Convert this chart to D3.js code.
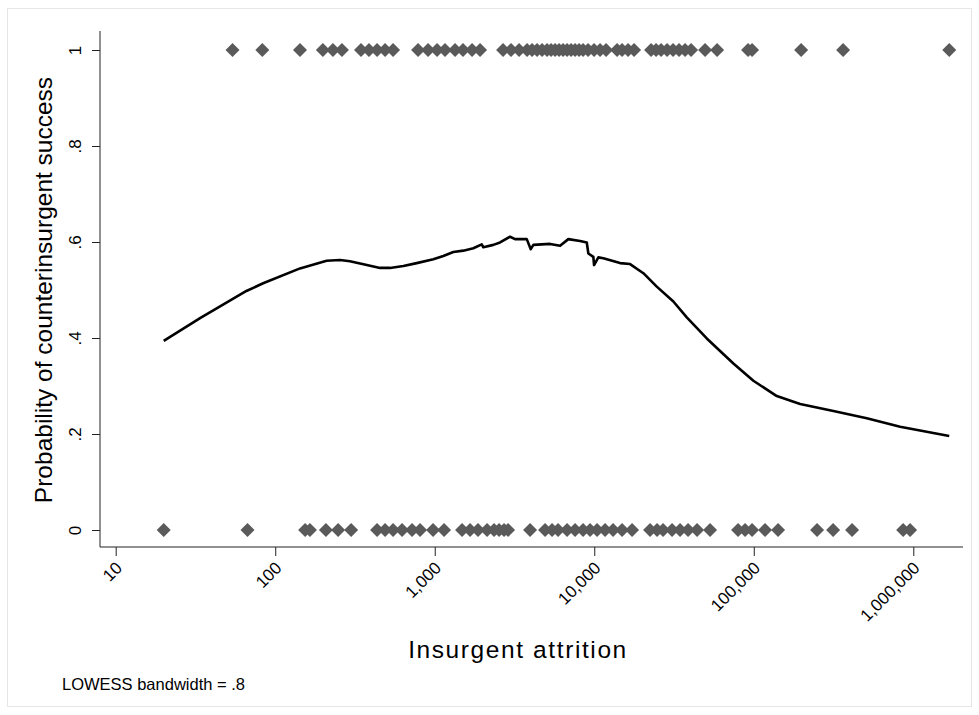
<!DOCTYPE html>
<html>
<head>
<meta charset="utf-8">
<script src="https://cdn.jsdelivr.net/npm/d3@7"></script>
<style>
  body { margin: 0; background: #fff; }
  text { font-family: "Liberation Sans", Arial, sans-serif; fill: #000; }
</style>
</head>
<body>
<div id="chart"></div>
<script>
// attrition of each case, split by outcome (1 = counterinsurgent success)
const successAttrition = [54, 83, 143, 199, 230, 262, 345, 387, 435, 488, 548, 786, 908, 1034, 1160,
  1341, 1504, 1714, 1923, 2681, 3009, 3377, 3790, 4074, 4379, 4707, 5059, 5360, 5679, 6016, 6375,
  6753, 7155, 7579, 8029, 8507, 9144, 9970, 10870, 11860, 13900, 14940, 16290, 17760, 22710, 24410,
  26230, 28610, 31190, 34020, 37090, 40450, 49510, 58890, 92100, 97560, 198000, 363000, 1680000]

const failureAttrition = [20, 67, 154, 165, 208, 248, 299, 435, 488, 548, 624, 721, 809, 976, 1144,
  1483, 1665, 1868, 2128, 2354, 2530, 2720, 2881, 3958, 4915, 5439, 5929, 6753, 7579, 8507, 9413,
  10410, 11690, 13120, 14940, 17260, 22380, 24760, 27000, 30740, 34510, 38730, 44110, 53210, 79730,
  88210, 97560, 117700, 142000, 249400, 314200, 413300, 863300, 954800]

// lowess smooth
const lowessX = [20, 34, 66, 84, 143, 210, 255, 294, 375, 454, 524, 636, 771, 980, 1132, 1308, 1511,
  1746, 1971, 2017, 2330, 2567, 2966, 3187, 3774, 3999, 4152, 5284, 6105, 6880, 8147, 8975, 9184,
  9871, 9970, 10610, 11400, 14510, 16770, 20320, 24650, 31330, 38010, 50740, 74490, 99430, 139400,
  195200, 315600, 511000, 826500, 1680000]
const lowessY = [0.394, 0.442, 0.498, 0.514, 0.545, 0.561, 0.5625, 0.560, 0.552, 0.546, 0.546, 0.550,
  0.556, 0.564, 0.571, 0.579, 0.582, 0.587, 0.595, 0.589, 0.594, 0.599, 0.611, 0.606, 0.606, 0.585,
  0.594, 0.596, 0.592, 0.606, 0.602, 0.599, 0.576, 0.569, 0.552, 0.568, 0.566, 0.556, 0.554, 0.535,
  0.507, 0.476, 0.443, 0.399, 0.347, 0.311, 0.279, 0.2625, 0.248, 0.233, 0.215, 0.196]

const xTicks = [10, 100, 1000, 10000, 100000, 1000000]
const yTicks = [0, 0.2, 0.4, 0.6, 0.8, 1]

const width = 979
const height = 715

const svg = d3.select("#chart").append("svg")
  .attr("width", width)
  .attr("height", height)

// faint outer frame
svg.append("rect")
  .attr("x", 7.5).attr("y", 8.5)
  .attr("width", 964).attr("height", 698)
  .attr("fill", "none")
  .attr("stroke", "#e6e6e6")

const xScale = d3.scaleLog()
  .domain([10, 1000000])
  .range([115.7, 913.3])

const yScale = d3.scaleLinear()
  .domain([0, 1])
  .range([530, 50])

const axisY0 = 547
const axisX0 = 100

// x axis
const xAxis = d3.axisBottom(xScale)
  .tickValues(xTicks)
  .tickSize(9)
  .tickFormat(d3.format(","))

const gx = svg.append("g")
  .attr("transform", `translate(0, ${axisY0})`)
  .call(xAxis)
gx.select(".domain").remove()
gx.selectAll(".tick line").attr("stroke", "#222")
gx.selectAll("text")
  .attr("x", null).attr("y", null).attr("dy", null)
  .attr("transform", "translate(7,22) rotate(-45)")
  .style("text-anchor", "end")
  .style("font-size", "17px")

// y axis
const yAxis = d3.axisLeft(yScale)
  .tickValues(yTicks)
  .tickSize(8)
  .tickFormat(d => d === 0 ? "0" : d === 1 ? "1" : d3.format(".1f")(d).replace(/^0/, ""))

const gy = svg.append("g")
  .attr("transform", `translate(${axisX0}, 0)`)
  .call(yAxis)
gy.select(".domain").remove()
gy.selectAll(".tick line").attr("stroke", "#222")
gy.selectAll("text")
  .attr("x", null).attr("y", null).attr("dy", null)
  .attr("transform", "translate(-19,0) rotate(-90)")
  .style("text-anchor", "middle")
  .style("font-size", "17px")

// axis lines
svg.append("line")
  .attr("x1", axisX0).attr("x2", axisX0)
  .attr("y1", 31).attr("y2", axisY0)
  .attr("stroke", "#222")
svg.append("line")
  .attr("x1", axisX0).attr("x2", 963)
  .attr("y1", axisY0).attr("y2", axisY0)
  .attr("stroke", "#222")

// scatter points
const diamond = d3.symbol(d3.symbolSquare, 98)
const pts = successAttrition.map(v => ({ x: v, y: 1 }))
  .concat(failureAttrition.map(v => ({ x: v, y: 0 })))

svg.append("g").selectAll("path")
  .data(pts)
  .enter()
  .append("path")
  .attr("d", diamond)
  .attr("transform", d => `translate(${xScale(d.x)},${yScale(d.y)}) rotate(45)`)
  .attr("fill", "#5a5a5a")

// lowess line
const line = d3.line()
  .x((d, i) => xScale(lowessX[i]))
  .y(d => yScale(d))

svg.append("path")
  .datum(lowessY)
  .attr("d", line)
  .attr("fill", "none")
  .attr("stroke", "#000")
  .attr("stroke-width", 2.6)
  .attr("stroke-linejoin", "round")

// titles
svg.append("text")
  .attr("x", 518).attr("y", 658)
  .attr("text-anchor", "middle")
  .style("font-size", "24.5px")
  .style("letter-spacing", "1.6px")
  .text("Insurgent attrition")

svg.append("text")
  .attr("transform", "translate(52, 290) rotate(-90)")
  .attr("text-anchor", "middle")
  .style("font-size", "24.5px")
  .text("Probability of counterinsurgent success")

svg.append("text")
  .attr("x", 62).attr("y", 690)
  .style("font-size", "16.5px")
  .text("LOWESS bandwidth = .8")
</script>
</body>
</html>
